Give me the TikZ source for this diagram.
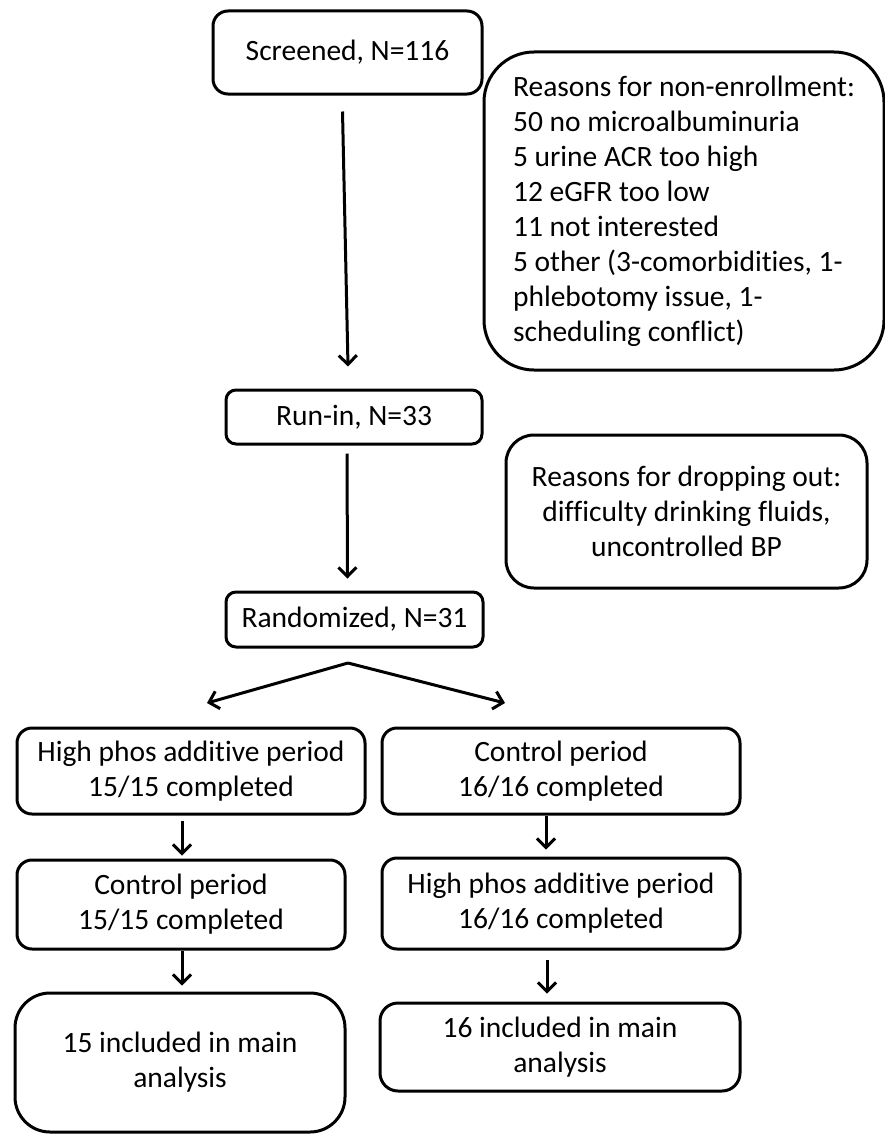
\documentclass[tikz,border=0pt]{standalone}
\usepackage{fontspec}
\setmainfont[Ligatures=NoCommon]{Carlito}
\usetikzlibrary{arrows.meta}
\begin{document}
\begin{tikzpicture}[x=1pt,y=-1pt,
  box/.style={draw=black, line width=3pt, align=center, inner sep=0pt,
    font=\fontsize{29.5}{35}\selectfont},
  arr/.style={line width=3pt, -{Straight Barb[length=9pt,width=18pt]}}]
\useasboundingbox (0,0) rectangle (884,1140);
\node[box, rounded corners=15pt, minimum width=269pt, minimum height=83pt] (scr) at (347.5,52.5) {Screened, N=116};
\node[box, rounded corners=50pt, align=left, minimum width=400pt, minimum height=318pt] (nonenr) at (684,211)
  {Reasons for non-enrollment:\\50 no microalbuminuria\\5 urine ACR too high\\12 eGFR too low\\11 not interested\\5 other (3-comorbidities, 1-\\phlebotomy issue, 1-\\scheduling conflict)};
\node[box, rounded corners=10pt, minimum width=256pt, minimum height=54pt] (run) at (354,417) {Run-in, N=33};
\node[box, rounded corners=28pt, minimum width=361pt, minimum height=153pt] (drop) at (686.5,511.5)
  {Reasons for dropping out:\\difficulty drinking fluids,\\uncontrolled BP};
\node[box, rounded corners=10pt, minimum width=257pt, minimum height=55pt] (rand) at (354.5,619.5) {Randomized, N=31};
\node[box, rounded corners=15pt, minimum width=348pt, minimum height=86pt] (L1) at (191,771) {High phos additive period\\15/15 completed};
\node[box, rounded corners=15pt, minimum width=358pt, minimum height=86pt] (R1) at (561,771) {Control period\\16/16 completed};
\node[box, rounded corners=15pt, minimum width=328pt, minimum height=89pt] (L2) at (181,904.5) {Control period\\15/15 completed};
\node[box, rounded corners=15pt, minimum width=358pt, minimum height=91pt] (R2) at (561,903.5) {High phos additive period\\16/16 completed};
\node[box, rounded corners=35pt, minimum width=330pt, minimum height=139pt] (L3) at (180,1062.5) {15 included in main\\analysis};
\node[box, rounded corners=18pt, minimum width=360pt, minimum height=88pt] (R3) at (560,1047) {16 included in main\\analysis};
\coordinate (split) at (348,663);
\coordinate (tipL) at (207,703);
\coordinate (tipR) at (505,703);
\draw[arr] ([xshift=-5pt,yshift=-16pt]scr.south) -- ([xshift=-6pt,yshift=22pt]run.north);
\draw[arr] ([xshift=-7pt,yshift=-8pt]run.south) -- ([xshift=-7pt,yshift=12pt]rand.north);
\draw[arr] (split) -- (tipL);
\draw[arr] (split) -- (tipR);
\draw[arr] ([xshift=-9pt,yshift=-5pt]L1.south) -- ([xshift=1pt,yshift=3pt]L2.north);
\draw[arr] ([xshift=-15pt]R1.south) -- ([xshift=-15pt,yshift=7pt]R2.north);
\draw[arr] ([xshift=1pt]L2.south) -- ([xshift=2pt,yshift=6pt]L3.north);
\draw[arr] ([xshift=-14pt,yshift=-9pt]R2.south) -- ([xshift=-13pt,yshift=8pt]R3.north);
\end{tikzpicture}
\end{document}
